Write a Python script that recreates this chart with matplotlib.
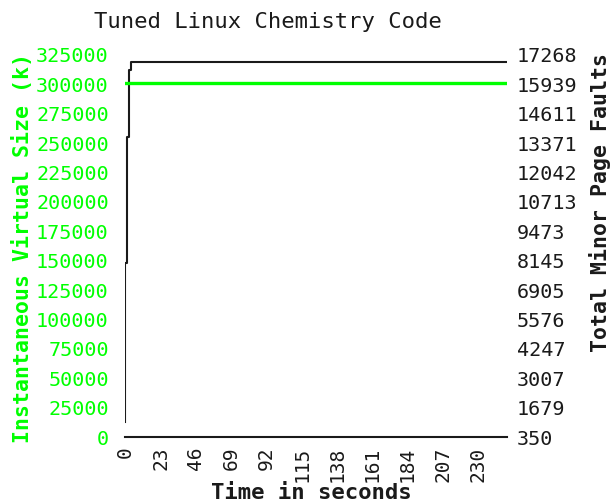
import matplotlib
matplotlib.use('Agg')
import matplotlib.pyplot as plt
import numpy as np

# samples: elapsed seconds, virtual size (k), cumulative minor faults
time_s = [0, 1.3, 2.6, 3.4, 249]
vsize_k = [301000, 301000, 301000, 301000, 301000]
minor_faults = [1015, 8049, 13633, 16603, 16944]

vsize_ticks = [0, 25000, 50000, 75000, 100000, 125000, 150000, 175000,
               200000, 225000, 250000, 275000, 300000, 325000]
fault_ticks = ['350', '1679', '3007', '4247', '5576', '6905', '8145',
               '9473', '10713', '12042', '13371', '14611', '15939', '17268']
time_ticks = [0, 23, 46, 69, 92, 115, 138, 161, 184, 207, 230]

green = '#00ff00'
ink = '#1a1a1a'
plt.rcParams['font.family'] = 'DejaVu Sans Mono'

fig = plt.figure(figsize=(6.12, 5.04), dpi=100)
ax = fig.add_axes([0.205, 0.1329, 0.6234, 0.7581])
ax2 = ax.twinx()

# page faults on the right-hand scale
ax2.step(time_s, minor_faults, where='pre', color=ink, lw=1.5)
ax2.set_ylim(350, 17268)
ax2.set_yticks(np.linspace(350, 17268, len(fault_ticks)))
ax2.set_yticklabels(fault_ticks)
ax2.tick_params(axis='y', length=0, pad=7, labelsize=14.5, colors=ink)

# virtual size on the left-hand scale, drawn over the faults
ax.plot(time_s, vsize_k, color=green, lw=2.4, solid_capstyle='projecting')
ax.set_ylim(0, 325000)
ax.set_yticks(vsize_ticks)
ax.tick_params(axis='y', length=0, pad=12, labelsize=14.5, colors=green)

ax.set_xlim(0, time_s[-1])
ax.set_xticks(time_ticks)
ax.set_xticklabels([str(t) for t in time_ticks], rotation=90)
ax.tick_params(axis='x', length=0, pad=7, labelsize=14, colors=ink)

ax.set_zorder(ax2.get_zorder() + 1)
ax.patch.set_visible(False)
for a in (ax, ax2):
    for side in ('top', 'left', 'right'):
        a.spines[side].set_visible(False)
ax2.spines['bottom'].set_visible(False)
ax.spines['bottom'].set_linewidth(1.5)
ax.spines['bottom'].set_color(ink)

# axis titles placed on the figure
fig.text(0.437, 0.956, 'Tuned Linux Chemistry Code', ha='center', va='center',
         fontsize=16, color=ink)
fig.text(0.508, 0.022, 'Time in seconds', ha='center', va='center',
         fontsize=16, fontweight='bold', color=ink)
fig.text(0.036, 0.508, 'Instantaneous Virtual Size (k)', ha='center',
         va='center', rotation=90, fontsize=15.5, fontweight='bold',
         color=green)
fig.text(0.980, 0.599, 'Total Minor Page Faults', ha='center', va='center',
         rotation=90, fontsize=15.5, fontweight='bold', color=ink)

fig.savefig('out.png', dpi=100)
